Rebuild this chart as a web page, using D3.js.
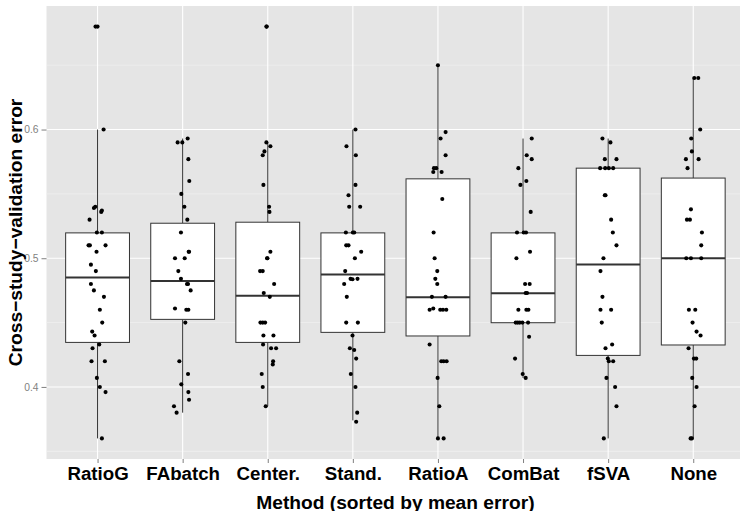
<!DOCTYPE html>
<html>
<head>
<meta charset="utf-8">
<script src="https://cdn.jsdelivr.net/npm/d3@7"></script>
<style>
body { margin: 0; background: #fff; }
text { font-family: "Liberation Sans", Arial, sans-serif; }
</style>
</head>
<body>
<script>
// categories, in plotted order
const methods = ["RatioG", "FAbatch", "Center.", "Stand.", "RatioA", "ComBat", "fSVA", "None"]

// box statistics
const lowerWhisker = [0.360, 0.380, 0.385, 0.374, 0.360, 0.407, 0.360, 0.360]
const lowerHinge   = [0.4346, 0.4525, 0.4346, 0.4424, 0.4396, 0.4499, 0.4245, 0.4326]
const medians      = [0.4850, 0.4824, 0.4709, 0.4873, 0.4696, 0.4728, 0.4951, 0.5000]
const upperHinge   = [0.5197, 0.5272, 0.5280, 0.5197, 0.5617, 0.5197, 0.5700, 0.5623]
const upperWhisker = [0.600, 0.593, 0.590, 0.600, 0.650, 0.593, 0.593, 0.640]

const yTicks = [0.4, 0.5, 0.6]
const yMinor = [0.35, 0.45, 0.55, 0.65]

// jittered points: [error, jitter in category widths]
const ratioG = [[0.680,-0.024],[0.680,0.0],[0.600,0.071],[0.539,-0.043],[0.540,-0.027],[0.537,0.051],[0.536,0.043],
  [0.530,-0.094],[0.520,-0.008],[0.520,0.051],[0.510,-0.106],[0.510,-0.090],[0.510,0.094],[0.505,-0.012],
  [0.495,-0.078],[0.490,-0.020],[0.480,-0.078],[0.475,-0.043],[0.470,0.075],[0.460,0.027],[0.450,0.055],
  [0.443,-0.063],[0.440,-0.035],[0.433,0.020],[0.430,-0.059],[0.420,-0.071],[0.420,0.086],[0.407,-0.008],
  [0.400,0.027],[0.396,0.094],[0.360,0.051]]
const faBatch = [[0.593,0.059],[0.590,-0.059],[0.590,-0.004],[0.577,0.067],[0.560,0.078],[0.550,-0.016],[0.540,0.020],
  [0.530,0.055],[0.520,-0.020],[0.505,0.071],[0.505,0.075],[0.500,-0.090],[0.500,0.024],[0.490,-0.051],[0.484,-0.020],
  [0.480,0.051],[0.480,0.063],[0.475,0.094],[0.461,-0.090],[0.460,0.043],[0.460,0.067],[0.450,0.031],[0.420,-0.039],
  [0.410,0.063],[0.402,-0.016],[0.396,0.067],[0.390,0.075],[0.385,-0.102],[0.380,-0.071]]
const center = [[0.680,-0.016],[0.680,-0.012],[0.590,-0.016],[0.587,0.031],[0.583,-0.039],[0.580,-0.059],[0.557,-0.051],
  [0.540,0.016],[0.536,0.020],[0.505,0.031],[0.500,-0.008],[0.500,-0.004],[0.490,-0.090],[0.490,-0.059],[0.480,0.075],
  [0.473,-0.047],[0.470,0.024],[0.450,-0.086],[0.450,-0.059],[0.450,-0.031],[0.440,-0.051],[0.440,0.067],[0.433,-0.055],
  [0.430,0.039],[0.430,0.098],[0.420,0.063],[0.4175,0.059],[0.410,-0.071],[0.400,-0.059],[0.385,-0.024]]
const stand = [[0.600,0.031],[0.587,-0.075],[0.580,0.035],[0.557,0.031],[0.549,-0.051],[0.540,-0.043],[0.540,0.086],
  [0.520,-0.082],[0.520,0.0],[0.520,0.016],[0.510,-0.078],[0.510,-0.051],[0.505,0.098],[0.500,0.024],[0.490,-0.090],
  [0.484,-0.027],[0.4837,-0.004],[0.484,0.055],[0.480,-0.102],[0.470,-0.071],[0.450,-0.078],[0.450,0.059],
  [0.440,-0.004],[0.430,-0.035],[0.4287,0.016],[0.422,0.039],[0.410,-0.024],[0.400,0.031],[0.380,0.051],[0.373,0.039]]
const ratioA = [[0.650,0.0],[0.598,0.090],[0.593,0.031],[0.580,0.090],[0.570,-0.047],[0.570,-0.020],[0.567,-0.055],
  [0.567,0.043],[0.546,0.051],[0.520,-0.051],[0.500,-0.039],[0.490,-0.008],[0.484,-0.031],[0.480,-0.008],
  [0.470,-0.071],[0.470,0.090],[0.460,-0.098],[0.461,-0.055],[0.460,0.027],[0.460,0.059],[0.460,0.098],
  [0.433,-0.098],[0.420,0.039],[0.420,0.067],[0.420,0.102],[0.407,-0.004],[0.385,0.016],[0.360,0.0],[0.360,0.067]]
const comBat = [[0.593,0.102],[0.580,0.043],[0.577,0.102],[0.570,-0.055],[0.560,0.039],[0.557,-0.031],[0.536,0.090],
  [0.520,-0.071],[0.520,0.008],[0.520,0.035],[0.505,0.082],[0.500,-0.078],[0.480,0.024],[0.480,0.078],[0.473,0.031],
  [0.473,0.047],[0.460,-0.055],[0.460,0.039],[0.460,0.063],[0.450,-0.086],[0.450,-0.063],[0.450,-0.039],
  [0.450,-0.008],[0.450,0.059],[0.439,0.071],[0.422,-0.094],[0.410,-0.004],[0.407,0.031]]
const fSVA = [[0.593,-0.067],[0.590,0.027],[0.577,-0.039],[0.577,0.098],[0.570,-0.094],[0.570,-0.035],[0.570,0.008],
  [0.570,0.059],[0.549,-0.039],[0.549,-0.031],[0.530,0.035],[0.520,0.055],[0.510,0.098],[0.500,-0.055],[0.490,-0.090],
  [0.470,-0.067],[0.460,-0.090],[0.460,0.035],[0.450,-0.075],[0.433,0.047],[0.430,-0.031],[0.422,-0.004],
  [0.420,0.008],[0.420,0.059],[0.407,-0.020],[0.400,0.082],[0.385,0.098],[0.360,-0.051]]
const none = [[0.640,0.012],[0.640,0.059],[0.600,0.082],[0.593,-0.024],[0.583,-0.016],[0.577,-0.086],[0.577,0.063],
  [0.570,-0.067],[0.538,-0.027],[0.530,-0.074],[0.530,-0.039],[0.520,0.102],[0.510,0.094],[0.500,-0.082],
  [0.500,-0.027],[0.500,0.094],[0.460,-0.051],[0.460,0.024],[0.450,-0.008],[0.443,0.039],[0.440,0.086],
  [0.430,-0.055],[0.422,0.008],[0.422,0.035],[0.407,-0.012],[0.400,0.039],[0.385,0.016],[0.360,-0.031],[0.360,-0.016]]

const pointSets = [ratioG, faBatch, center, stand, ratioA, comBat, fSVA, none]

const W = 740, H = 511
const panel = {left: 46.5, top: 6, right: 744.3, bottom: 459}

const svg = d3.select("body").append("svg")
  .attr("width", W).attr("height", H)

// scales (ggplot style: 0.6 category padding, 5% value padding)
const x = d3.scalePoint().domain(methods)
  .range([panel.left, panel.right]).padding(0.6)
const step = x.step()

const allVals = pointSets.flat().map(d => d[0])
const ext = d3.extent(allVals)
const pad = (ext[1] - ext[0]) * 0.05
const y = d3.scaleLinear().domain([ext[0] - pad, ext[1] + pad])
  .range([panel.bottom, panel.top])

// panel background
svg.append("rect")
  .attr("x", panel.left).attr("y", panel.top)
  .attr("width", panel.right - panel.left).attr("height", panel.bottom - panel.top)
  .attr("fill", "#E5E5E5")

const grid = svg.append("g")
grid.selectAll(".minor").data(yMinor).enter().append("line")
  .attr("x1", panel.left).attr("x2", panel.right)
  .attr("y1", d => y(d)).attr("y2", d => y(d))
  .attr("stroke", "#F2F2F2").attr("stroke-width", 0.7)
grid.selectAll(".major").data(yTicks).enter().append("line")
  .attr("x1", panel.left).attr("x2", panel.right)
  .attr("y1", d => y(d)).attr("y2", d => y(d))
  .attr("stroke", "#fff").attr("stroke-width", 1.1)
grid.selectAll(".vmajor").data(methods).enter().append("line")
  .attr("x1", d => x(d)).attr("x2", d => x(d))
  .attr("y1", panel.top).attr("y2", panel.bottom)
  .attr("stroke", "#fff").attr("stroke-width", 1.1)

// boxplots
const boxes = svg.append("g")
const bw = step * 0.75
methods.forEach((m, i) => {
  const cx = x(m)
  boxes.append("line")
    .attr("x1", cx).attr("x2", cx)
    .attr("y1", y(upperHinge[i])).attr("y2", y(upperWhisker[i]))
    .attr("stroke", "#333").attr("stroke-width", 1)
  boxes.append("line")
    .attr("x1", cx).attr("x2", cx)
    .attr("y1", y(lowerHinge[i])).attr("y2", y(lowerWhisker[i]))
    .attr("stroke", "#333").attr("stroke-width", 1)
  boxes.append("rect")
    .attr("x", cx - bw / 2).attr("width", bw)
    .attr("y", y(upperHinge[i])).attr("height", y(lowerHinge[i]) - y(upperHinge[i]))
    .attr("fill", "#fff").attr("stroke", "#333").attr("stroke-width", 1)
  boxes.append("line")
    .attr("x1", cx - bw / 2).attr("x2", cx + bw / 2)
    .attr("y1", y(medians[i])).attr("y2", y(medians[i]))
    .attr("stroke", "#333").attr("stroke-width", 2)
})

// jittered points
const pts = svg.append("g")
pointSets.forEach((set, i) => {
  pts.selectAll(null).data(set).enter().append("circle")
    .attr("cx", d => x(methods[i]) + d[1] * step)
    .attr("cy", d => y(d[0]))
    .attr("r", 2.05)
    .attr("fill", "#000")
})

// axes
const yAxis = svg.append("g")
  .attr("transform", `translate(${panel.left},0)`)
  .call(d3.axisLeft(y).tickValues(yTicks).tickSize(5).tickPadding(3).tickFormat(d3.format(".1f")))
yAxis.select(".domain").remove()
yAxis.selectAll("line").attr("stroke", "#7F7F7F")
yAxis.selectAll("text").attr("fill", "#7F7F7F").style("font-size", "10.3px")

const xAxis = svg.append("g")
  .attr("transform", `translate(0,${panel.bottom})`)
  .call(d3.axisBottom(x).tickSize(4).tickPadding(4))
xAxis.select(".domain").remove()
xAxis.selectAll("line").attr("stroke", "#7F7F7F")
xAxis.selectAll("text").attr("fill", "#000")
  .style("font-size", "18.7px").style("font-weight", "bold")

// axis titles
svg.append("text")
  .attr("x", (panel.left + panel.right) / 2).attr("y", 508.5)
  .attr("text-anchor", "middle")
  .style("font-size", "19.2px").style("font-weight", "bold")
  .text("Method (sorted by mean error)")

svg.append("text")
  .attr("transform", `translate(22,${(panel.top + panel.bottom) / 2}) rotate(-90)`)
  .attr("text-anchor", "middle")
  .style("font-size", "19.2px").style("font-weight", "bold")
  .text("Cross\u2212study\u2212validation error")
</script>
</body>
</html>
